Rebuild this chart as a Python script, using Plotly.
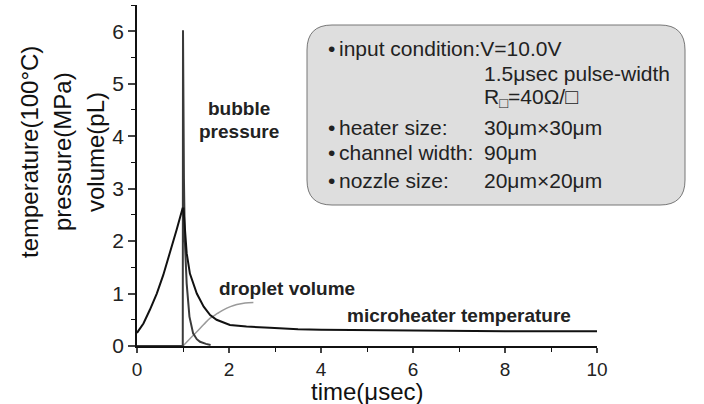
import plotly.graph_objects as go

# microheater temperature (100 °C)
temp_t = [0.0, 0.14, 0.28, 0.43, 0.57, 0.72, 0.86, 0.99, 1.01, 1.08, 1.15, 1.3, 1.45, 1.59, 1.73, 2.02, 2.38, 2.89, 3.5, 4.0, 5.0, 6.0, 7.0, 8.0, 10.0]
temp_v = [0.25, 0.43, 0.69, 1.0, 1.35, 1.77, 2.21, 2.62, 2.62, 1.77, 1.38, 1.0, 0.75, 0.59, 0.5, 0.4, 0.37, 0.35, 0.32, 0.31, 0.30, 0.29, 0.29, 0.28, 0.28]

# bubble pressure (MPa)
pres_t = [0.0, 0.995, 1.0, 1.008, 1.02, 1.04, 1.08, 1.14, 1.22, 1.3, 1.37, 1.5, 1.6]
pres_v = [0.0, 0.0, 6.02, 4.6, 3.2, 2.0, 1.19, 0.56, 0.24, 0.13, 0.08, 0.04, 0.02]

# droplet volume (pL)
drop_t = [1.0, 1.15, 1.3, 1.45, 1.59, 1.75, 1.88, 2.03, 2.17, 2.35, 2.53]
drop_v = [0.0, 0.14, 0.27, 0.41, 0.53, 0.62, 0.69, 0.75, 0.79, 0.82, 0.83]

x_ticks = [0, 2, 4, 6, 8, 10]
y_ticks = [0, 1, 2, 3, 4, 5, 6]

info_lines = [
    ("•", "input condition:V=10.0V", ""),
    ("", "", "1.5μsec pulse-width"),
    ("", "", "R<sub>□</sub>=40Ω/□"),
    ("•", "heater size:", "30μm×30μm"),
    ("•", "channel width:", "90μm"),
    ("•", "nozzle size:", "20μm×20μm"),
]

FONT = "Liberation Sans, Arial, sans-serif"

# pixel -> paper helpers (plot area: x 137..597, y 5..346)
def px(x):
    return (x - 137) / 460.0

def py(y):
    return (346 - y) / 341.0

fig = go.Figure()
fig.add_trace(go.Scatter(x=drop_t, y=drop_v, mode="lines", line_shape="spline",
                         line=dict(color="#9a9a9a", width=1.5), showlegend=False))
fig.add_trace(go.Scatter(x=pres_t, y=pres_v, mode="lines",
                         line=dict(color="#3a3a3a", width=2), showlegend=False))
fig.add_trace(go.Scatter(x=temp_t, y=temp_v, mode="lines",
                         line=dict(color="#111111", width=2), showlegend=False))

annots = [
    (2.22, 4.53, "<b>bubble</b>"),
    (2.22, 4.08, "<b>pressure</b>"),
    (3.27, 1.10, "<b>droplet volume</b>"),
    (7.01, 0.59, "<b>microheater temperature</b>"),
]
for x, y, t in annots:
    fig.add_annotation(xref="x", yref="y", showarrow=False,
                       xanchor="center", yanchor="middle",
                       font=dict(family=FONT, color="#222", size=19),
                       x=x, y=y, text=t)

# info box (rounded rectangle)
L, R, T, B = px(307), px(685), py(25), py(205)
rx, ry = 25 / 460.0, 25 / 341.0
path = (f"M {L+rx} {T} L {R-rx} {T} Q {R} {T} {R} {T-ry} L {R} {B+ry} Q {R} {B} {R-rx} {B} "
        f"L {L+rx} {B} Q {L} {B} {L} {B+ry} L {L} {T-ry} Q {L} {T} {L+rx} {T} Z")
fig.add_shape(type="path", xref="paper", yref="paper", path=path,
              fillcolor="#dedede", line=dict(color="#777777", width=1), layer="above")

line_y = [48, 73, 98, 127, 153, 180]
for (b, k, v), yy in zip(info_lines, line_y):
    for txt, xx in [(b, 326), (k, 337), (v, 482)]:
        if txt:
            fig.add_annotation(xref="paper", yref="paper", x=px(xx), y=py(yy),
                               text=txt, showarrow=False, xanchor="left", yanchor="middle",
                               font=dict(family=FONT, size=21, color="#222"))

# y title (three lines)
for txt, xx in [("temperature(100°C)", 30), ("pressure(MPa)", 63), ("volume(pL)", 96)]:
    fig.add_annotation(xref="paper", yref="paper", x=px(xx), y=py(152),
                       text=txt, textangle=-90, showarrow=False,
                       xanchor="center", yanchor="middle",
                       font=dict(family=FONT, size=24, color="#111"))

# x title
fig.add_annotation(xref="paper", yref="paper", x=px(367), y=py(406),
                   text="time(μsec)", showarrow=False, xanchor="center", yanchor="bottom",
                   borderpad=0, font=dict(family=FONT, size=24, color="#111"))

fig.update_layout(
    width=704, height=404,
    margin=dict(l=137, r=107, t=5, b=58),
    paper_bgcolor="white", plot_bgcolor="white",
    font=dict(family=FONT, color="#111"),
    xaxis=dict(range=[0, 10], tickvals=x_ticks, ticks="outside", ticklen=5, tickwidth=1.5,
               showline=True, linecolor="#111", linewidth=1.5, showgrid=False, zeroline=False,
               tickfont=dict(size=19, color="#222"),
               minor=dict(dtick=1, ticks="outside", ticklen=4, tickwidth=1.2, tickcolor="#111")),
    yaxis=dict(range=[0, 6.5], tickvals=y_ticks, ticks="outside", ticklen=7, tickwidth=1.5,
               showline=True, linecolor="#111", linewidth=1.5, showgrid=False, zeroline=False,
               tickfont=dict(size=21, color="#222"),
               minor=dict(dtick=0.5, ticks="outside", ticklen=4, tickwidth=1.2, tickcolor="#111")),
)

fig.write_html("out.html")
